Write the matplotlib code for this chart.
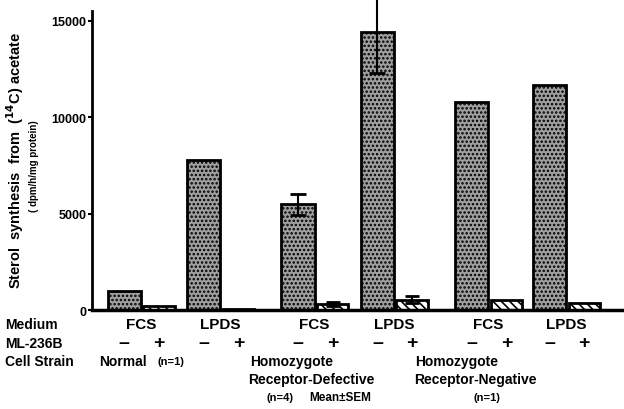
import matplotlib.pyplot as plt
import numpy as np
from matplotlib.transforms import blended_transform_factory

# values (dpm/h/mg protein)
strains = ['Normal', 'Receptor-Defective', 'Receptor-Negative']
media = ['FCS', 'LPDS', 'FCS', 'LPDS', 'FCS', 'LPDS']
minus_vals = [1000, 7800, 5500, 14400, 10800, 11700]
plus_vals = [200, 60, 300, 550, 550, 350]
minus_err = [0, 0, 550, 2100, 0, 0]
plus_err = [0, 0, 100, 200, 0, 0]

plt.rcParams['font.family'] = ['Liberation Sans', 'DejaVu Sans']
plt.rcParams['font.weight'] = 'bold'
plt.rcParams['hatch.linewidth'] = 1.2

fig = plt.figure(figsize=(6.24, 4.10), dpi=100)
ax = fig.add_axes([0.147, 0.241, 0.853, 0.730])

# layout: pairs within a strain, strains spaced wider
width = 1.0
pair_pos = np.array([0.0, 2.4, 5.25, 7.65, 10.5, 12.85])
x_minus = pair_pos + width / 2
x_plus = pair_pos + 1.05 + width / 2

ax.bar(x_minus, minus_vals, width, color='#a0a0a0', edgecolor='black',
       linewidth=2, hatch='....', zorder=2)
ax.bar(x_plus, plus_vals, width * 0.95, color='white', edgecolor='black',
       linewidth=2, hatch='\\\\\\\\', zorder=2)

em = np.array(minus_err)
ep = np.array(plus_err)
sel = em > 0
ax.errorbar(x_minus[sel], np.array(minus_vals)[sel], yerr=em[sel], fmt='none',
            ecolor='black', elinewidth=1.5, capsize=6, capthick=2,
            zorder=3, clip_on=False)
sel = ep > 0
ax.errorbar(x_plus[sel], np.array(plus_vals)[sel], yerr=ep[sel], fmt='none',
            ecolor='black', elinewidth=1.5, capsize=5, capthick=2,
            zorder=3, clip_on=False)

ax.set_xlim(-0.48, 15.6)
ax.set_ylim(0, 15520)
ax.set_yticks([0, 5000, 10000, 15000])
ax.set_xticks([])
ax.tick_params(axis='y', direction='out', length=3, width=1.5, labelsize=9, pad=1)
for lab in ax.get_yticklabels():
    lab.set_fontweight('bold')
for s in ['top', 'right']:
    ax.spines[s].set_visible(False)
ax.spines['left'].set_linewidth(2)
ax.spines['bottom'].set_linewidth(2.5)

fig.text(0.025, 1 - 160 / 410,
         'Sterol  synthesis  from  (' + r'$^{\mathbf{14}}$' + 'C) acetate',
         rotation=90, ha='center', va='center', fontsize=10.5, fontweight='bold')
fig.text(0.054, 1 - 166 / 410, '( dpm/h/mg protein)', rotation=90, ha='center',
         va='center', fontsize=7, fontweight='bold')

# row labels under the axis
tr = blended_transform_factory(ax.transData, fig.transFigure)
rows_y = [1 - 325 / 410, 1 - 344 / 410, 1 - 362 / 410]
fig.text(0.008, rows_y[0], 'Medium', fontsize=10, va='center')
fig.text(0.008, rows_y[1], 'ML-236B', fontsize=10, va='center')
fig.text(0.008, rows_y[2], 'Cell Strain', fontsize=10, va='center')

for i, m in enumerate(media):
    ax.text(pair_pos[i] + 1.0, rows_y[0], m, transform=tr, ha='center',
            va='center', fontsize=11)
    ax.text(x_minus[i], rows_y[1], '\u2013', transform=tr, ha='center',
            va='center', fontsize=14)
    ax.text(x_plus[i], rows_y[1], '+', transform=tr, ha='center',
            va='center', fontsize=14)

ax.text(pair_pos[0] - 0.25, rows_y[2], 'Normal', transform=tr, ha='left',
        va='center', fontsize=10)
ax.text(pair_pos[0] + 1.5, rows_y[2], '(n=1)', transform=tr, ha='left',
        va='center', fontsize=8)
ax.text(pair_pos[2] - 0.95, rows_y[2], 'Homozygote', transform=tr, ha='left',
        va='center', fontsize=10)
ax.text(pair_pos[2] - 1.0, 1 - 380 / 410, 'Receptor-Defective', transform=tr,
        ha='left', va='center', fontsize=10)
ax.text(pair_pos[2] - 0.45, 1 - 398 / 410, '(n=4)', transform=tr, ha='left',
        va='center', fontsize=8)
ax.text(pair_pos[2] + 0.85, 1 - 398 / 410, 'Mean\u00b1SEM', transform=tr,
        ha='left', va='center', fontsize=8.5)
ax.text(pair_pos[4] - 1.2, rows_y[2], 'Homozygote', transform=tr, ha='left',
        va='center', fontsize=10)
ax.text(pair_pos[4] - 1.23, 1 - 380 / 410, 'Receptor-Negative', transform=tr,
        ha='left', va='center', fontsize=10)
ax.text(pair_pos[4] + 0.55, 1 - 398 / 410, '(n=1)', transform=tr, ha='left',
        va='center', fontsize=8)

fig.savefig('out.png', dpi=100)
